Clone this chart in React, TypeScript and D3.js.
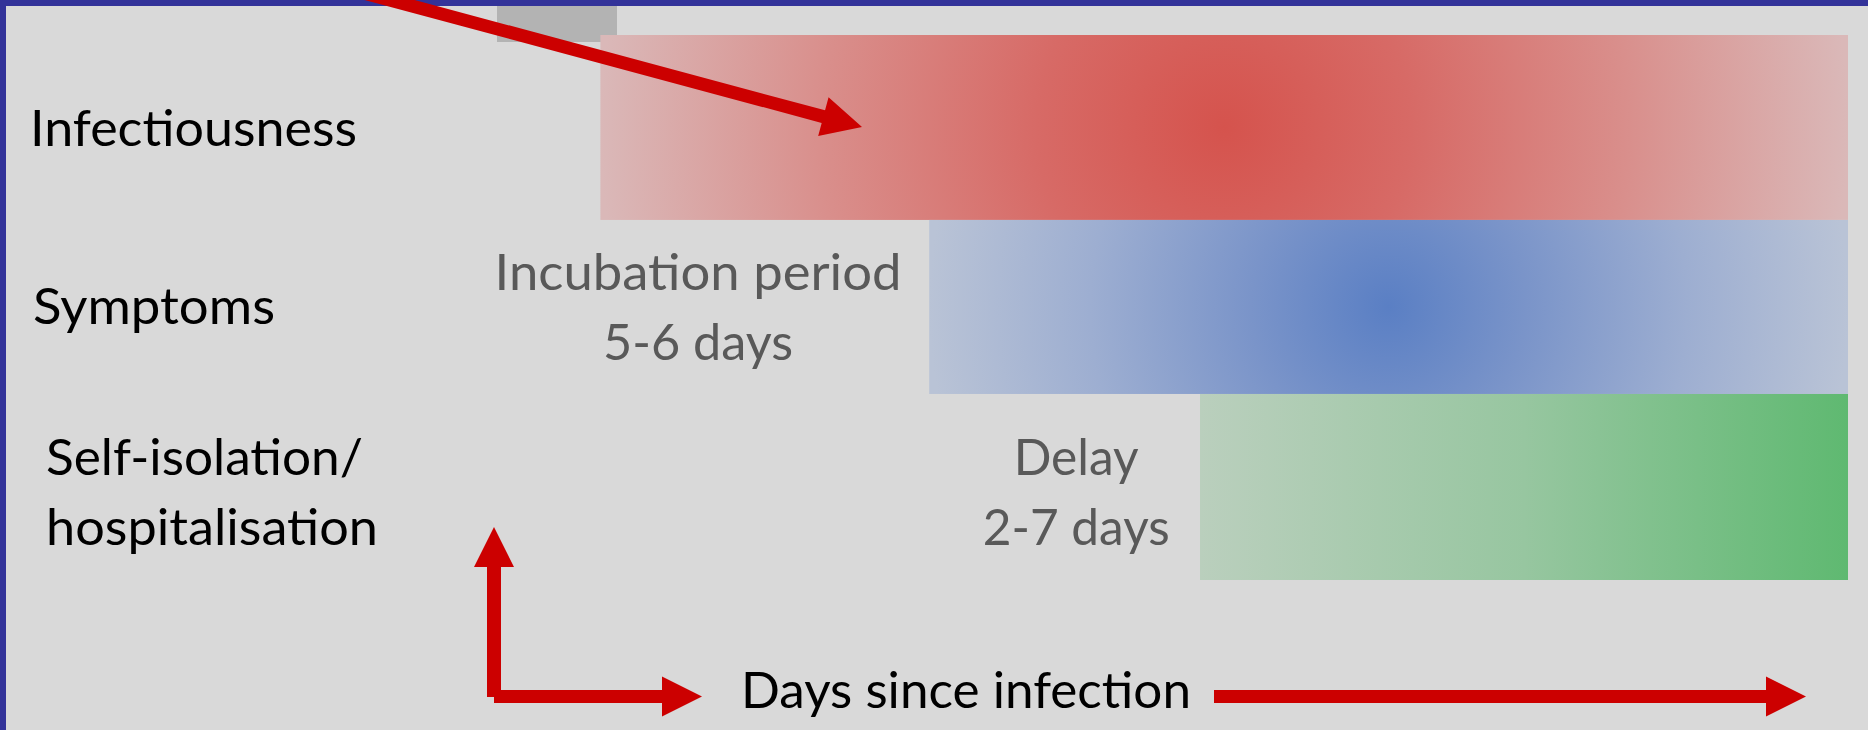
import React from "react";
import * as d3 from "d3";

// ---------- data ----------
const rowKeys = ["infectiousness", "symptoms", "isolation"];
const rowLabels: string[][] = [["Infectiousness"], ["Symptoms"], ["Self-isolation/", "hospitalisation"]];
const rowEdges = [0, 1.018, 1.976, 3];
const barStartDay = [1.1, 4.5, 7.3];
const barEndDay = [14, 14, 14];
const annotationRows = [1, 2];
const annotationCenterDay = [2.11, 6.02];
const annotationLines: string[][] = [["Incubation period", "5-6 days"], ["Delay", "2-7 days"]];
const axisLabel = "Days since infection";

// ---------- layout ----------
const W = 1868;
const H = 730;
const FONT = "Lato, 'Open Sans', sans-serif";
const FS = 50;

const x = d3.scaleLinear().domain([0, 14]).range([494, 1848]);
const y = d3.scaleLinear().domain([0, 3]).range([35, 580]);

// target text widths (to match glyph widths of the original font)
const labelLen: Record<string, number> = {
  Infectiousness: 327,
  Symptoms: 242,
  "Self-isolation/": 317,
  hospitalisation: 332,
  "Incubation period": 407,
  "5-6 days": 190,
  Delay: 125,
  "2-7 days": 187,
  "Days since infection": 450,
};
const labelX = [30, 33, 46];
const rowBaseline0 = [146, 324, 475];
const annotationBaseline0 = [290, 475];
const LINE = 70;

function arrowPath(x1: number, y1: number, x2: number, y2: number, sw: number, hw: number, hl: number) {
  const dx = x2 - x1, dy = y2 - y1;
  const L = Math.hypot(dx, dy);
  const ux = dx / L, uy = dy / L;
  const nx = -uy, ny = ux;
  const bx = x2 - ux * hl, by = y2 - uy * hl;
  const p = d3.path();
  p.moveTo(x1 + nx * sw / 2, y1 + ny * sw / 2);
  p.lineTo(bx + nx * sw / 2, by + ny * sw / 2);
  p.lineTo(bx + nx * hw / 2, by + ny * hw / 2);
  p.lineTo(x2, y2);
  p.lineTo(bx - nx * hw / 2, by - ny * hw / 2);
  p.lineTo(bx - nx * sw / 2, by - ny * sw / 2);
  p.lineTo(x1 - nx * sw / 2, y1 - ny * sw / 2);
  p.closePath();
  return p.toString();
}

const RED = "#CC0000";

export default function App() {
  const bars = rowKeys.map((k, i) => {
    const x0 = x(barStartDay[i]);
    const x1 = x(barEndDay[i]);
    const y0 = y(rowEdges[i]);
    const y1 = y(rowEdges[i + 1]);
    return { k, i, x0, x1, y0, h: y1 - y0 };
  });

  const textEl = (s: string, tx: number, ty: number, anchor: string, fill: string, key: string) => (
    <text
      key={key}
      x={tx}
      y={ty}
      textAnchor={anchor}
      fill={fill}
      fontFamily={FONT}
      fontSize={FS}
      textLength={labelLen[s]}
      lengthAdjust="spacingAndGlyphs"
    >
      {s}
    </text>
  );

  return (
    <svg width={W} height={H} style={{ position: "absolute", left: 0, top: 0, display: "block" }}>
      <defs>
        <radialGradient id="g-infectiousness" gradientUnits="userSpaceOnUse"
          cx={(bars[0].x0 + bars[0].x1) / 2} cy={bars[0].y0 + bars[0].h / 2} r={(bars[0].x1 - bars[0].x0) / 2}>
          <stop offset="0" stopColor="#D5534D" />
          <stop offset="0.3" stopColor="#D76A66" />
          <stop offset="0.65" stopColor="#D98F8C" />
          <stop offset="1" stopColor="#DAB8B8" />
        </radialGradient>
        <radialGradient id="g-symptoms" gradientUnits="userSpaceOnUse"
          cx={(bars[1].x0 + bars[1].x1) / 2} cy={bars[1].y0 + bars[1].h / 2} r={(bars[1].x1 - bars[1].x0) / 2}>
          <stop offset="0" stopColor="#5A7FC4" />
          <stop offset="0.3" stopColor="#7A94C9" />
          <stop offset="0.65" stopColor="#9DAED1" />
          <stop offset="1" stopColor="#B9C3D6" />
        </radialGradient>
        <linearGradient id="g-isolation" x1="0" x2="1" y1="0" y2="0">
          <stop offset="0" stopColor="#BACFBD" />
          <stop offset="0.5" stopColor="#97C6A0" />
          <stop offset="1" stopColor="#5FB971" />
        </linearGradient>
      </defs>

      <rect x={0} y={0} width={W} height={H} fill="#D9D9D9" />
      <rect x={497} y={0} width={120} height={42} fill="#B3B3B3" />

      {bars.map((b) => (
        <rect key={b.k} x={b.x0} y={b.y0} width={b.x1 - b.x0} height={b.h} fill={`url(#g-${b.k})`} />
      ))}

      {/* frame */}
      <rect x={0} y={0} width={W} height={6} fill="#333399" />
      <rect x={0} y={0} width={6} height={H} fill="#333399" />

      {/* row labels */}
      {rowLabels.map((lines, i) =>
        lines.map((s, j) => textEl(s, labelX[i], rowBaseline0[i] + j * LINE, "start", "#000000", `r${i}-${j}`))
      )}

      {/* annotations */}
      {annotationLines.map((lines, i) =>
        lines.map((s, j) =>
          textEl(s, x(annotationCenterDay[i]), annotationBaseline0[i] + j * LINE, "middle", "#595959", `a${i}-${j}`)
        )
      )}

      {/* axis label */}
      {textEl(axisLabel, 741, 708, "start", "#000000", "axis")}

      {/* arrows */}
      <path d={arrowPath(304, -23, 862, 127, 13, 40, 40)} fill={RED} />
      <path d={arrowPath(494, 697, 494, 527, 14, 40, 40)} fill={RED} />
      <path d={arrowPath(494, 696.5, 702, 696.5, 13, 40, 40)} fill={RED} />
      <path d={arrowPath(1214, 696.5, 1806, 696.5, 13, 40, 40)} fill={RED} />
    </svg>
  );
}
